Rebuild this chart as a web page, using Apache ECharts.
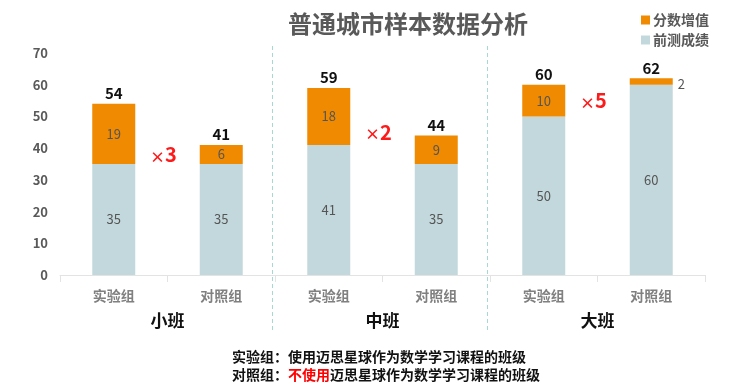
<!DOCTYPE html>
<html><head><meta charset="utf-8">
<script src="https://cdn.jsdelivr.net/npm/echarts@6/dist/echarts.min.js"></script>
<style>html,body{margin:0;padding:0;background:#fff}#c{width:730px;height:388px}</style>
</head><body><div id="c"></div>
<script>
var categories = ['实验组','对照组','实验组','对照组','实验组','对照组'];
var groups = ['小班','中班','大班'];
var pretest = [35, 35, 41, 35, 50, 60];
var gain = [19, 6, 18, 9, 10, 2];
var totals = [54, 41, 59, 44, 60, 62];
var multipliers = ['3', '2', '5'];
var multiplierY = [38, 45, 55];
var yTicks = [0, 10, 20, 30, 40, 50, 60, 70];

var FONT = '"Noto Sans CJK SC", "Noto Sans", sans-serif';
var chart = echarts.init(document.getElementById('c'));
var option = {
  animation: false,
  textStyle: { fontFamily: FONT },
  title: {
    text: '普通城市样本数据分析', left: 283, top: 7,
    textStyle: { fontFamily: FONT, fontSize: 24, fontWeight: 'bold', color: '#595959' }
  },
  legend: {
    data: ['分数增值', '前测成绩'], orient: 'vertical', left: 636, top: 8,
    itemWidth: 9, itemHeight: 9, itemGap: 6, icon: 'rect',
    textStyle: { fontFamily: FONT, fontSize: 14, fontWeight: 'bold', color: '#595959', padding: [0,0,0,-2] }
  },
  grid: { left: 60, right: 25, top: 53, bottom: 113 },
  xAxis: [{
    type: 'category', data: categories,
    axisLine: { lineStyle: { color: '#e3e3e3' } },
    axisTick: { show: true, length: 7, lineStyle: { color: '#e3e3e3' } },
    axisLabel: { margin: 14, fontFamily: FONT, fontSize: 14, fontWeight: 'bold', color: '#808080' }
  }, {
    type: 'category', data: groups, position: 'bottom', offset: 29,
    axisLine: { show: false }, axisTick: { show: false },
    axisLabel: { margin: 8, fontFamily: FONT, fontSize: 17, fontWeight: 'bold', color: '#111' }
  }],
  yAxis: {
    type: 'value', min: yTicks[0], max: yTicks[yTicks.length - 1], interval: 10,
    splitLine: { show: false }, axisLine: { show: false }, axisTick: { show: false },
    axisLabel: { margin: 12, fontFamily: FONT, fontSize: 13, fontWeight: 'bold', color: '#595959' }
  },
  series: [{
    name: '前测成绩', type: 'bar', stack: 's', barWidth: '40%',
    data: pretest, itemStyle: { color: '#C3D8DC' },
    label: { show: true, position: 'inside', fontFamily: FONT, fontSize: 13, color: '#555' }
  }, {
    name: '分数增值', type: 'bar', stack: 's', barWidth: '40%',
    data: gain.map(function (v, i) {
      if (i === 5) return { value: v, label: { position: 'right', distance: 5, offset: [0, 3] } };
      return v;
    }),
    itemStyle: { color: '#F08A00' },
    label: { show: true, position: 'inside', fontFamily: FONT, fontSize: 13, color: '#555' }
  }, {
    name: 'total', type: 'bar', stack: 's', barWidth: '40%',
    data: totals.map(function () { return 0; }),
    itemStyle: { color: 'transparent' },
    label: {
      show: true, position: 'top', distance: 3,
      formatter: function (p) { return totals[p.dataIndex]; },
      fontFamily: FONT, fontSize: 15, fontWeight: 'bold', color: '#111'
    }
  }]
};
chart.setOption(option);

var graphics = [];
[2, 4].forEach(function (k) {
  var a = chart.convertToPixel({ xAxisIndex: 0 }, k - 1);
  var b = chart.convertToPixel({ xAxisIndex: 0 }, k);
  var x = Math.round((a + b) / 2) - 2.5;
  graphics.push({
    type: 'line', shape: { x1: x, y1: 46, x2: x, y2: 333 },
    style: { stroke: '#A6D9D2', lineWidth: 1, lineDash: [4, 3] }, z: 10
  });
});
multipliers.forEach(function (t, g) {
  var a = chart.convertToPixel({ xAxisIndex: 0 }, g * 2);
  var b = chart.convertToPixel({ xAxisIndex: 0 }, g * 2 + 1);
  var y = chart.convertToPixel({ yAxisIndex: 0 }, multiplierY[g]);
  graphics.push({
    type: 'text', x: (a + b) / 2 - 4, y: y,
    style: {
      text: '{x|×}{n|' + t + '}',
      rich: {
        x: { fill: '#FF1A1A', fontFamily: FONT, fontSize: 15, fontWeight: 'bold', verticalAlign: 'bottom' },
        n: { fill: '#FF1A1A', fontFamily: FONT, fontSize: 20, fontWeight: 'bold', verticalAlign: 'bottom' }
      },
      textAlign: 'center', textVerticalAlign: 'middle'
    }
  });
});
graphics.push({
  type: 'text', left: 232, top: 350,
  style: {
    text: '{a|实验组：使用迈思星球作为数学学习课程的班级}\n{a|对照组：}{r|不使用}{a|迈思星球作为数学学习课程的班级}',
    rich: {
      a: { fontFamily: FONT, fontSize: 14, fontWeight: 'bold', fill: '#111', lineHeight: 18 },
      r: { fontFamily: FONT, fontSize: 14, fontWeight: 'bold', fill: '#FF0000', lineHeight: 18 }
    }
  }
});
chart.setOption({ graphic: graphics });
</script>
</body></html>
